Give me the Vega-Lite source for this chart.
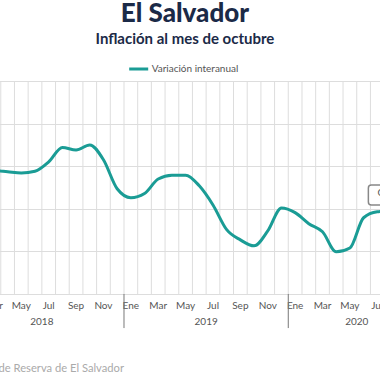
{
  "$schema": "https://vega.github.io/schema/vega-lite/v6.json",
  "autosize": "none",
  "width": 465.5,
  "height": 213,
  "padding": {"left": -40.3, "top": 81, "right": 0, "bottom": 86},
  "background": "white",
  "config": {"view": {"stroke": null}, "font": "Lato"},
  "title": {
    "text": "El Salvador",
    "subtitle": "Inflación al mes de octubre",
    "anchor": "middle",
    "dx": -7.5,
    "font": "Lato",
    "subtitleFont": "Lato",
    "fontSize": 26,
    "subtitleFontSize": 15,
    "fontWeight": 900,
    "subtitleFontWeight": "bold",
    "color": "#1b2a47",
    "subtitleColor": "#1b2a47",
    "subtitlePadding": 5,
    "offset": 11
  },
  "datasets": {
    "serie": [
      {"mes": "2018-01", "valor": 0.92, "serie": "Variación interanual"},
      {"mes": "2018-02", "valor": 0.95, "serie": "Variación interanual"},
      {"mes": "2018-03", "valor": 0.9, "serie": "Variación interanual"},
      {"mes": "2018-04", "valor": 0.87, "serie": "Variación interanual"},
      {"mes": "2018-05", "valor": 0.84, "serie": "Variación interanual"},
      {"mes": "2018-06", "valor": 0.88, "serie": "Variación interanual"},
      {"mes": "2018-07", "valor": 1.1, "serie": "Variación interanual"},
      {"mes": "2018-08", "valor": 1.44, "serie": "Variación interanual"},
      {"mes": "2018-09", "valor": 1.38, "serie": "Variación interanual"},
      {"mes": "2018-10", "valor": 1.5, "serie": "Variación interanual"},
      {"mes": "2018-11", "valor": 1.15, "serie": "Variación interanual"},
      {"mes": "2018-12", "valor": 0.47, "serie": "Variación interanual"},
      {"mes": "2019-01", "valor": 0.26, "serie": "Variación interanual"},
      {"mes": "2019-02", "valor": 0.36, "serie": "Variación interanual"},
      {"mes": "2019-03", "valor": 0.7, "serie": "Variación interanual"},
      {"mes": "2019-04", "valor": 0.79, "serie": "Variación interanual"},
      {"mes": "2019-05", "valor": 0.79, "serie": "Variación interanual"},
      {"mes": "2019-06", "valor": 0.54, "serie": "Variación interanual"},
      {"mes": "2019-07", "valor": 0.09, "serie": "Variación interanual"},
      {"mes": "2019-08", "valor": -0.49, "serie": "Variación interanual"},
      {"mes": "2019-09", "valor": -0.73, "serie": "Variación interanual"},
      {"mes": "2019-10", "valor": -0.87, "serie": "Variación interanual"},
      {"mes": "2019-11", "valor": -0.52, "serie": "Variación interanual"},
      {"mes": "2019-12", "valor": 0.02, "serie": "Variación interanual"},
      {"mes": "2020-01", "valor": -0.09, "serie": "Variación interanual"},
      {"mes": "2020-02", "valor": -0.35, "serie": "Variación interanual"},
      {"mes": "2020-03", "valor": -0.54, "serie": "Variación interanual"},
      {"mes": "2020-04", "valor": -1.01, "serie": "Variación interanual"},
      {"mes": "2020-05", "valor": -0.92, "serie": "Variación interanual"},
      {"mes": "2020-06", "valor": -0.21, "serie": "Variación interanual"},
      {"mes": "2020-07", "valor": -0.07, "serie": "Variación interanual"},
      {"mes": "2020-08", "valor": -0.05, "serie": "Variación interanual"},
      {"mes": "2020-09", "valor": -0.1, "serie": "Variación interanual"},
      {"mes": "2020-10", "valor": -0.12, "serie": "Variación interanual"}
    ],
    "anios": [
      {"mes": "2018-07", "anio": "2018"},
      {"mes": "2019-07", "anio": "2019"},
      {"mes": "2020-06", "anio": "2020"}
    ],
    "cortes": [
      {"mes": "2019-01"},
      {"mes": "2020-01"}
    ],
    "etiqueta": [
      {"mes": "2020-07", "mes2": "2020-10", "y1": 0.56, "y2": 0.09, "texto": "Oct-20: -0.12%"}
    ],
    "fuente": [
      {"mes": "2019-01", "texto": "Fuente: Banco Central de Reserva de El Salvador"}
    ]
  },
  "encoding": {
    "x": {
      "field": "mes",
      "type": "ordinal",
      "sort": "ascending",
      "scale": {"type": "band", "paddingInner": 0, "paddingOuter": 0},
      "axis": {
        "title": null,
        "grid": false,
        "ticks": false,
        "domain": false,
        "labelAngle": 0,
        "labelFont": "Lato",
        "labelFontSize": 10,
        "labelColor": "#555555",
        "labelPadding": 7,
        "labelExpr": "indexof(['01','03','05','07','09','11'], slice(datum.value,5)) >= 0 ? ['Ene','Feb','Mar','Abr','May','Jun','Jul','Ago','Sep','Oct','Nov','Dic'][toNumber(slice(datum.value,5))-1] : ''"
      }
    }
  },
  "layer": [
    {
      "data": {"name": "serie"},
      "mark": {"type": "rule", "color": "#dddddd", "strokeWidth": 1},
      "encoding": {"x": {"field": "mes", "type": "ordinal", "bandPosition": 0}}
    },
    {
      "data": {"name": "serie"},
      "mark": {"type": "line", "interpolate": "monotone", "strokeWidth": 3, "strokeCap": "round"},
      "encoding": {
        "y": {
          "field": "valor",
          "type": "quantitative",
          "scale": {"domain": [-2, 3], "nice": false, "zero": false},
          "axis": {"title": null, "labels": false, "ticks": false, "domain": false, "grid": true, "gridColor": "#dddddd", "values": [-2, -1, 0, 1, 2, 3]}
        },
        "color": {
          "field": "serie",
          "type": "nominal",
          "scale": {"range": ["#1a9c95"]},
          "legend": {
            "title": null,
            "orient": "none",
            "legendX": 168,
            "legendY": -23,
            "symbolType": "stroke",
            "symbolSize": 361,
            "symbolStrokeWidth": 3,
            "labelFont": "Lato",
            "labelFontSize": 10,
            "labelColor": "#555555",
            "labelOffset": 2
          }
        }
      }
    },
    {
      "mark": {"type": "rule", "color": "#999999", "strokeWidth": 1},
      "encoding": {"y": {"datum": 0}}
    },
    {
      "data": {"name": "cortes"},
      "mark": {"type": "rule", "color": "#777777", "strokeWidth": 1},
      "encoding": {
        "x": {"field": "mes", "type": "ordinal", "bandPosition": 0},
        "y": {"datum": -2},
        "y2": {"datum": -2.8}
      }
    },
    {
      "data": {"name": "anios"},
      "mark": {"type": "text", "font": "Lato", "fontSize": 10, "color": "#555555", "align": "center", "baseline": "middle"},
      "encoding": {
        "x": {"field": "mes", "type": "ordinal", "bandPosition": 0},
        "y": {"datum": -2.65},
        "text": {"field": "anio"}
      }
    },
    {
      "data": {"name": "etiqueta"},
      "mark": {"type": "rect", "fill": "white", "stroke": "#888888", "strokeWidth": 1.5, "cornerRadius": 3},
      "encoding": {
        "x": {"field": "mes", "type": "ordinal", "bandPosition": -0.15},
        "x2": {"field": "mes2"},
        "y": {"field": "y1", "type": "quantitative"},
        "y2": {"field": "y2"}
      }
    },
    {
      "data": {"name": "etiqueta"},
      "mark": {"type": "text", "font": "Lato", "fontSize": 10, "color": "#555555", "align": "left", "baseline": "middle", "dx": 7},
      "encoding": {
        "x": {"field": "mes", "type": "ordinal", "bandPosition": 0},
        "y": {"datum": 0.37},
        "text": {"field": "texto"}
      }
    },
    {
      "data": {"name": "fuente"},
      "mark": {"type": "text", "font": "Lato", "fontSize": 11.2, "color": "#aaaaaa", "align": "right", "baseline": "alphabetic"},
      "encoding": {
        "x": {"field": "mes", "type": "ordinal", "bandPosition": 0},
        "y": {"datum": -3.83},
        "text": {"field": "texto"}
      }
    }
  ]
}
